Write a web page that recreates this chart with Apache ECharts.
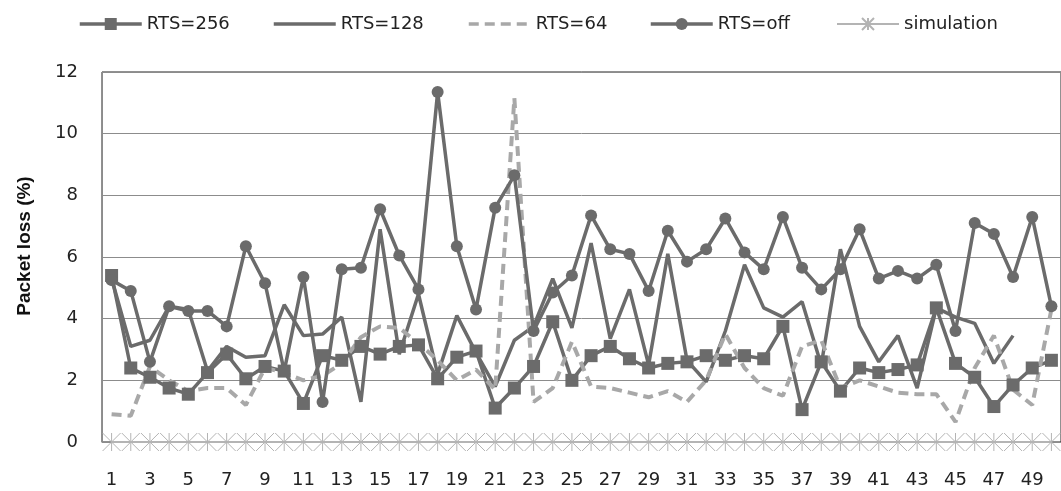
<!DOCTYPE html>
<html>
<head>
<meta charset="utf-8">
<script src="https://cdn.jsdelivr.net/npm/echarts@6/dist/echarts.min.js"></script>
<style>
html,body{margin:0;padding:0;background:#fff;}
#chart{width:1061px;height:491px;}
</style>
</head>
<body>
<div id="chart"></div>
<script>
const categories = Array.from({length: 50}, (_, i) => String(i + 1));
const yTicks = [0, 2, 4, 6, 8, 10, 12];
const seriesNames = ['RTS=256', 'RTS=128', 'RTS=64', 'RTS=off', 'simulation'];
const rts256 = [5.4,2.4,2.1,1.75,1.55,2.25,2.85,2.05,2.45,2.3,1.25,2.8,2.65,3.1,2.85,3.1,3.15,2.05,2.75,2.95,1.1,1.75,2.45,3.9,2.0,2.8,3.1,2.7,2.4,2.55,2.6,2.8,2.65,2.8,2.7,3.75,1.05,2.6,1.65,2.4,2.25,2.35,2.5,4.35,2.55,2.1,1.15,1.85,2.4,2.65];
const rts128 = [5.3,3.1,3.3,4.4,4.3,2.3,3.1,2.75,2.8,4.45,3.45,3.5,4.05,1.3,6.9,2.85,4.8,2.2,4.1,2.9,1.8,3.3,3.75,5.3,3.7,6.45,3.35,4.95,2.5,6.1,2.65,1.95,3.6,5.75,4.35,4.05,4.55,2.5,6.25,3.75,2.6,3.45,1.75,4.35,4.05,3.85,2.55,3.45,null,null];
const rts64 = [0.9,0.85,2.45,2.0,1.65,1.75,1.75,1.2,2.4,2.25,2.0,2.15,2.55,3.4,3.75,3.7,3.2,2.65,2.0,2.35,1.7,11.15,1.3,1.75,3.25,1.8,1.75,1.6,1.45,1.65,1.3,2.0,3.5,2.4,1.75,1.5,3.1,3.3,1.75,2.0,1.8,1.6,1.55,1.55,0.65,2.4,3.45,1.7,1.2,4.3];
const rtsOff = [5.25,4.9,2.6,4.4,4.25,4.25,3.75,6.35,5.15,2.3,5.35,1.3,5.6,5.65,7.55,6.05,4.95,11.35,6.35,4.3,7.6,8.65,3.6,4.85,5.4,7.35,6.25,6.1,4.9,6.85,5.85,6.25,7.25,6.15,5.6,7.3,5.65,4.95,5.6,6.9,5.3,5.55,5.3,5.75,3.6,7.1,6.75,5.35,7.3,4.4];
const simulation = [0,0,0,0,0,0,0,0,0,0,0,0,0,0,0,0,0,0,0,0,0,0,0,0,0,0,0,0,0,0,0,0,0,0,0,0,0,0,0,0,0,0,0,0,0,0,0,0,0,0];

const dark = '#6b6b6b';
const light = '#a8a8a8';
const simColor = '#b4b4b4';
const font = '"DejaVu Sans",sans-serif';
const legendLefts = [73, 267, 462, 644, 831];
const legendLineWidths = [3.5, 3.5, 3.5, 3.5, 2];
const hiddenSym = {color: 'rgba(0,0,0,0)', borderWidth: 0, opacity: 0};

const legends = seriesNames.map((n, i) => ({
  top: 10,
  left: legendLefts[i],
  itemWidth: 62,
  itemHeight: 15,
  lineStyle: {width: legendLineWidths[i]},
  textStyle: {fontSize: 18, color: '#222', fontFamily: font},
  data: [(n === 'RTS=128' || n === 'RTS=64') ? {name: n, itemStyle: hiddenSym} : n]
}));

const chart = echarts.init(document.getElementById('chart'));
chart.setOption({
  animation: false,
  backgroundColor: '#fff',
  textStyle: {fontFamily: font},
  legend: legends,
  grid: {left: 102, top: 72, bottom: 49, right: -11, show: true, borderColor: '#222', borderWidth: 1, containLabel: false},
  xAxis: {
    type: 'category',
    data: categories,
    boundaryGap: true,
    axisLine: {lineStyle: {color: '#8c8c8c', width: 1}},
    axisTick: {show: false},
    axisLabel: {interval: 1, margin: 29, fontSize: 18, color: '#222', fontFamily: font}
  },
  yAxis: {
    type: 'value',
    min: 0, max: 12, interval: 2,
    name: 'Packet loss (%)',
    nameLocation: 'middle',
    nameGap: 68,
    nameTextStyle: {fontSize: 19, fontWeight: 'bold', color: '#111', fontFamily: '"Liberation Sans",sans-serif', padding: [0, 0, 0, 22]},
    axisLine: {show: true, lineStyle: {color: '#8c8c8c', width: 1}},
    axisTick: {show: false},
    splitLine: {lineStyle: {color: '#8c8c8c', width: 1}},
    axisLabel: {margin: 24, fontSize: 18, color: '#222', fontFamily: font,
      formatter: v => yTicks.includes(v) ? String(v) : ''}
  },
  series: [
    {name: 'RTS=256', type: 'line', data: rts256, symbol: 'rect', symbolSize: 13, showAllSymbol: true,
      lineStyle: {color: dark, width: 3.5}, itemStyle: {color: dark}},
    {name: 'RTS=128', type: 'line', data: rts128, showSymbol: false, symbol: 'none',
      lineStyle: {color: dark, width: 3.5}, itemStyle: {color: dark}},
    {name: 'RTS=64', type: 'line', data: rts64, showSymbol: false, symbol: 'none',
      lineStyle: {color: light, width: 4, type: [10, 6]}, itemStyle: {color: light}},
    {name: 'RTS=off', type: 'line', data: rtsOff, symbol: 'circle', symbolSize: 12, showAllSymbol: true,
      lineStyle: {color: dark, width: 3.5}, itemStyle: {color: dark}},
    {name: 'simulation', type: 'line', data: simulation, showAllSymbol: true,
      symbol: 'path://M0,0L20,20M20,0L0,20M10,0L10,20', symbolSize: 18,
      lineStyle: {color: simColor, width: 2}, itemStyle: {color: 'none', borderColor: simColor, borderWidth: 1}}
  ]
});
</script>
</body>
</html>
